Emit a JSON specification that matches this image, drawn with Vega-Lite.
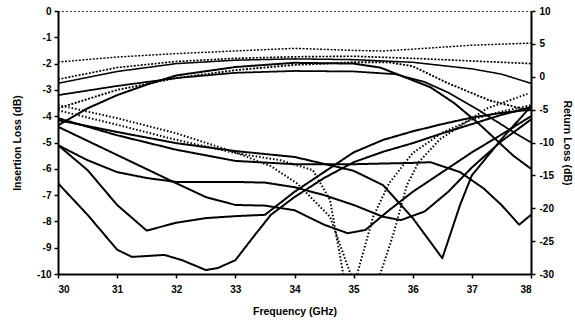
{
  "$schema": "https://vega.github.io/schema/vega-lite/v6.json",
  "width": 473,
  "height": 263,
  "autosize": {"type": "none"},
  "padding": {"left": 58, "top": 11, "right": 44, "bottom": 48},
  "background": "white",
  "config": {
    "view": {"stroke": null},
    "axis": {
      "labelFont": "Liberation Sans", "labelFontWeight": "bold", "labelFontSize": 10, "labelColor": "black",
      "titleFont": "Liberation Sans", "titleFontWeight": "bold", "titleFontSize": 10.5, "titleColor": "black",
      "domainColor": "black", "domainWidth": 2, "tickColor": "black", "tickWidth": 1.5, "tickSize": 4,
      "grid": false
    }
  },
  "datasets": {
    "il": [
      {"s": "IL0", "f": 30, "v": 0}, {"s": "IL0", "f": 38, "v": 0},
      {"s": "IL1", "f": 30, "v": -1.94}, {"s": "IL1", "f": 31, "v": -1.75}, {"s": "IL1", "f": 32, "v": -1.62}, {"s": "IL1", "f": 33, "v": -1.52}, {"s": "IL1", "f": 34, "v": -1.42}, {"s": "IL1", "f": 35, "v": -1.5}, {"s": "IL1", "f": 35.5, "v": -1.52}, {"s": "IL1", "f": 36, "v": -1.45}, {"s": "IL1", "f": 37, "v": -1.3}, {"s": "IL1", "f": 38, "v": -1.22},
      {"s": "IL2", "f": 30, "v": -2.75}, {"s": "IL2", "f": 31, "v": -2.3}, {"s": "IL2", "f": 32, "v": -2.0}, {"s": "IL2", "f": 33, "v": -1.87}, {"s": "IL2", "f": 34, "v": -1.82}, {"s": "IL2", "f": 35, "v": -1.85}, {"s": "IL2", "f": 36, "v": -1.95}, {"s": "IL2", "f": 37, "v": -2.2}, {"s": "IL2", "f": 37.5, "v": -2.4}, {"s": "IL2", "f": 38, "v": -2.75},
      {"s": "IL3", "f": 30, "v": -2.6}, {"s": "IL3", "f": 31, "v": -2.15}, {"s": "IL3", "f": 32, "v": -1.92}, {"s": "IL3", "f": 33, "v": -1.8}, {"s": "IL3", "f": 34, "v": -1.74}, {"s": "IL3", "f": 35, "v": -1.72}, {"s": "IL3", "f": 36, "v": -1.8}, {"s": "IL3", "f": 37, "v": -1.9}, {"s": "IL3", "f": 38, "v": -2.0},
      {"s": "IL4", "f": 30, "v": -3.2}, {"s": "IL4", "f": 31, "v": -2.85}, {"s": "IL4", "f": 32, "v": -2.55}, {"s": "IL4", "f": 33, "v": -2.35}, {"s": "IL4", "f": 34, "v": -2.28}, {"s": "IL4", "f": 35, "v": -2.3}, {"s": "IL4", "f": 35.7, "v": -2.4}, {"s": "IL4", "f": 36.2, "v": -2.7}, {"s": "IL4", "f": 36.6, "v": -3.1}, {"s": "IL4", "f": 37.1, "v": -3.75}, {"s": "IL4", "f": 37.7, "v": -4.6}, {"s": "IL4", "f": 38, "v": -5.0},
      {"s": "IL5", "f": 30, "v": -3.7}, {"s": "IL5", "f": 31, "v": -3.0}, {"s": "IL5", "f": 32, "v": -2.55}, {"s": "IL5", "f": 33, "v": -2.25}, {"s": "IL5", "f": 34, "v": -2.05}, {"s": "IL5", "f": 35, "v": -1.95}, {"s": "IL5", "f": 35.6, "v": -1.95}, {"s": "IL5", "f": 36, "v": -2.1}, {"s": "IL5", "f": 36.6, "v": -2.75}, {"s": "IL5", "f": 37.3, "v": -3.4}, {"s": "IL5", "f": 38, "v": -3.8},
      {"s": "IL6", "f": 30, "v": -4.35}, {"s": "IL6", "f": 30.5, "v": -3.7}, {"s": "IL6", "f": 31, "v": -3.2}, {"s": "IL6", "f": 31.5, "v": -2.8}, {"s": "IL6", "f": 32, "v": -2.45}, {"s": "IL6", "f": 33, "v": -2.13}, {"s": "IL6", "f": 34, "v": -1.97}, {"s": "IL6", "f": 35, "v": -2.0}, {"s": "IL6", "f": 35.45, "v": -2.15}, {"s": "IL6", "f": 36.3, "v": -2.9}, {"s": "IL6", "f": 36.7, "v": -3.5}, {"s": "IL6", "f": 37.1, "v": -4.25}, {"s": "IL6", "f": 37.7, "v": -5.5}, {"s": "IL6", "f": 38, "v": -6.0}
    ],
    "rl": [
      {"s": "R1", "f": 30, "v": -16.2}, {"s": "R1", "f": 30.5, "v": -21.0}, {"s": "R1", "f": 31, "v": -26.3}, {"s": "R1", "f": 31.25, "v": -27.4}, {"s": "R1", "f": 31.8, "v": -27.1}, {"s": "R1", "f": 32.1, "v": -27.9}, {"s": "R1", "f": 32.5, "v": -29.4}, {"s": "R1", "f": 32.7, "v": -29.1}, {"s": "R1", "f": 33, "v": -27.9}, {"s": "R1", "f": 33.3, "v": -24.4}, {"s": "R1", "f": 33.6, "v": -21.0}, {"s": "R1", "f": 34, "v": -18.3}, {"s": "R1", "f": 34.5, "v": -15.4}, {"s": "R1", "f": 35, "v": -13.0}, {"s": "R1", "f": 35.5, "v": -11.4}, {"s": "R1", "f": 36, "v": -10.1}, {"s": "R1", "f": 36.5, "v": -8.6}, {"s": "R1", "f": 37, "v": -7.2}, {"s": "R1", "f": 37.5, "v": -5.8}, {"s": "R1", "f": 38, "v": -4.6},
      {"s": "R2", "f": 30, "v": -10.4}, {"s": "R2", "f": 30.5, "v": -14.2}, {"s": "R2", "f": 31, "v": -19.5}, {"s": "R2", "f": 31.5, "v": -23.4}, {"s": "R2", "f": 32, "v": -22.2}, {"s": "R2", "f": 32.5, "v": -21.5}, {"s": "R2", "f": 33, "v": -21.2}, {"s": "R2", "f": 33.5, "v": -21.0}, {"s": "R2", "f": 34, "v": -17.5}, {"s": "R2", "f": 34.5, "v": -14.5}, {"s": "R2", "f": 35, "v": -11.5}, {"s": "R2", "f": 35.5, "v": -9.6}, {"s": "R2", "f": 36, "v": -8.3}, {"s": "R2", "f": 36.5, "v": -7.2}, {"s": "R2", "f": 37, "v": -6.2}, {"s": "R2", "f": 37.5, "v": -5.5}, {"s": "R2", "f": 38, "v": -5.0},
      {"s": "R3", "f": 30, "v": -7.6}, {"s": "R3", "f": 31, "v": -11.9}, {"s": "R3", "f": 32, "v": -16.2}, {"s": "R3", "f": 32.5, "v": -18.3}, {"s": "R3", "f": 33, "v": -19.5}, {"s": "R3", "f": 33.5, "v": -19.6}, {"s": "R3", "f": 34, "v": -20.3}, {"s": "R3", "f": 34.5, "v": -22.5}, {"s": "R3", "f": 34.9, "v": -23.8}, {"s": "R3", "f": 35.2, "v": -23.3}, {"s": "R3", "f": 35.6, "v": -20.3}, {"s": "R3", "f": 36, "v": -17.5}, {"s": "R3", "f": 36.5, "v": -14.5}, {"s": "R3", "f": 37, "v": -11.5}, {"s": "R3", "f": 37.5, "v": -8.8}, {"s": "R3", "f": 38, "v": -6.0},
      {"s": "R4", "f": 30, "v": -10.4}, {"s": "R4", "f": 30.5, "v": -12.7}, {"s": "R4", "f": 31, "v": -14.5}, {"s": "R4", "f": 31.5, "v": -15.4}, {"s": "R4", "f": 32, "v": -16.0}, {"s": "R4", "f": 33, "v": -16.0}, {"s": "R4", "f": 33.5, "v": -16.1}, {"s": "R4", "f": 34, "v": -16.8}, {"s": "R4", "f": 34.5, "v": -18.0}, {"s": "R4", "f": 35, "v": -19.5}, {"s": "R4", "f": 35.5, "v": -21.3}, {"s": "R4", "f": 35.8, "v": -21.8}, {"s": "R4", "f": 36.2, "v": -20.5}, {"s": "R4", "f": 36.6, "v": -17.5}, {"s": "R4", "f": 37, "v": -13.8}, {"s": "R4", "f": 37.5, "v": -9.8}, {"s": "R4", "f": 38, "v": -6.5},
      {"s": "R5", "f": 30, "v": -6.6}, {"s": "R5", "f": 31, "v": -8.4}, {"s": "R5", "f": 32, "v": -10.1}, {"s": "R5", "f": 33, "v": -11.3}, {"s": "R5", "f": 34, "v": -12.2}, {"s": "R5", "f": 35, "v": -14.3}, {"s": "R5", "f": 35.5, "v": -16.5}, {"s": "R5", "f": 36, "v": -21.5}, {"s": "R5", "f": 36.5, "v": -27.6}, {"s": "R5", "f": 36.8, "v": -19.5}, {"s": "R5", "f": 37, "v": -15.0}, {"s": "R5", "f": 37.5, "v": -9.5}, {"s": "R5", "f": 38, "v": -4.5},
      {"s": "R6", "f": 30, "v": -6.3}, {"s": "R6", "f": 31, "v": -8.9}, {"s": "R6", "f": 32, "v": -11.1}, {"s": "R6", "f": 33, "v": -12.8}, {"s": "R6", "f": 34, "v": -13.3}, {"s": "R6", "f": 35, "v": -13.3}, {"s": "R6", "f": 36, "v": -13.1}, {"s": "R6", "f": 36.3, "v": -13.0}, {"s": "R6", "f": 36.8, "v": -14.5}, {"s": "R6", "f": 37.2, "v": -17.0}, {"s": "R6", "f": 37.5, "v": -19.5}, {"s": "R6", "f": 37.8, "v": -22.5}, {"s": "R6", "f": 38, "v": -21.0},
      {"s": "D1", "f": 30, "v": -5.1}, {"s": "D1", "f": 31, "v": -7.3}, {"s": "D1", "f": 32, "v": -9.6}, {"s": "D1", "f": 33, "v": -11.6}, {"s": "D1", "f": 33.76, "v": -12.7}, {"s": "D1", "f": 34.31, "v": -14.2}, {"s": "D1", "f": 34.6, "v": -18.7}, {"s": "D1", "f": 34.82, "v": -29.8}, {"s": "D1", "f": 34.94, "v": -33}, {"s": "D1", "f": 35.06, "v": -30}, {"s": "D1", "f": 35.33, "v": -21.3}, {"s": "D1", "f": 35.6, "v": -16.2}, {"s": "D1", "f": 36, "v": -11.6}, {"s": "D1", "f": 36.5, "v": -8.5}, {"s": "D1", "f": 37, "v": -6.5}, {"s": "D1", "f": 37.5, "v": -5.3}, {"s": "D1", "f": 38, "v": -4.3},
      {"s": "D2", "f": 30, "v": -4.3}, {"s": "D2", "f": 31, "v": -6.3}, {"s": "D2", "f": 32, "v": -8.6}, {"s": "D2", "f": 33, "v": -11.5}, {"s": "D2", "f": 33.6, "v": -13.6}, {"s": "D2", "f": 34.04, "v": -16.2}, {"s": "D2", "f": 34.6, "v": -21.3}, {"s": "D2", "f": 34.94, "v": -29.8}, {"s": "D2", "f": 35.2, "v": -36}, {"s": "D2", "f": 35.45, "v": -30}, {"s": "D2", "f": 35.67, "v": -24.0}, {"s": "D2", "f": 35.9, "v": -16.5}, {"s": "D2", "f": 36.1, "v": -13.0}, {"s": "D2", "f": 36.46, "v": -9.5}, {"s": "D2", "f": 37.26, "v": -4.8}, {"s": "D2", "f": 37.94, "v": -2.6}
    ]
  },
  "encoding": {
    "x": {"field": "f", "type": "quantitative", "scale": {"domain": [30, 38], "nice": false}, "axis": {"title": "Frequency (GHz)", "values": [30, 31, 32, 33, 34, 35, 36, 37, 38], "labelPadding": 6, "titlePadding": 12}}
  },
  "layer": [
    {
      "data": {"name": "il"},
      "mark": {"type": "line", "color": "black", "clip": true, "strokeJoin": "round"},
      "encoding": {
        "y": {"field": "v", "type": "quantitative", "scale": {"domain": [-10, 0], "nice": false}, "axis": {"title": "Insertion Loss (dB)", "orient": "left", "values": [0, -1, -2, -3, -4, -5, -6, -7, -8, -9, -10], "labelExpr": "replace(datum.label, '\u2212', '-')", "labelPadding": 3, "titlePadding": 14}},
        "detail": {"field": "s"},
        "strokeDash": {"field": "s", "type": "nominal", "legend": null, "scale": {"domain": ["IL0", "IL1", "IL2", "IL3", "IL4", "IL5", "IL6"], "range": [[2, 2], [2, 1.5], [1, 0], [2, 1.5], [1, 0], [2, 1.5], [1, 0]]}},
        "strokeWidth": {"field": "s", "type": "nominal", "legend": null, "scale": {"domain": ["IL0", "IL1", "IL2", "IL3", "IL4", "IL5", "IL6"], "range": [1.3, 2, 2, 2, 2, 1.8, 2]}}
      }
    },
    {
      "data": {"name": "rl"},
      "mark": {"type": "line", "color": "black", "clip": true, "strokeJoin": "round"},
      "encoding": {
        "y": {"field": "v", "type": "quantitative", "scale": {"domain": [-30, 10], "nice": false}, "axis": {"title": "Return Loss (dB)", "orient": "right", "values": [10, 5, 0, -5, -10, -15, -20, -25, -30], "labelExpr": "replace(datum.label, '\u2212', '-')", "labelPadding": 4, "titlePadding": 8}},
        "detail": {"field": "s"},
        "strokeDash": {"field": "s", "type": "nominal", "legend": null, "scale": {"domain": ["R1", "R2", "R3", "R4", "R5", "R6", "D1", "D2"], "range": [[1, 0], [1, 0], [1, 0], [1, 0], [1, 0], [1, 0], [1.5, 2], [1.5, 2]]}},
        "strokeWidth": {"field": "s", "type": "nominal", "legend": null, "scale": {"domain": ["R1", "R2", "R3", "R4", "R5", "R6", "D1", "D2"], "range": [2, 2, 2, 2, 2, 2, 1.5, 1.5]}}
      }
    }
  ],
  "resolve": {"scale": {"y": "independent", "strokeDash": "independent", "strokeWidth": "independent"}}
}
